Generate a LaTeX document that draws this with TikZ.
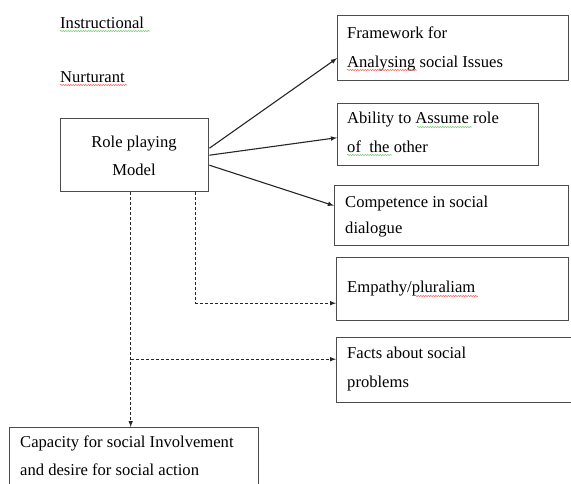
\documentclass[tikz,border=0pt]{standalone}
\usepackage{fontspec}
\setmainfont{Liberation Serif}
\usetikzlibrary{arrows, calc, decorations.pathmorphing}

\tikzset{
  box/.style={draw=black!70, line width=1.4pt, rectangle, anchor=north west, inner sep=0pt},
  txt/.style={anchor=base west, inner sep=0pt, font=\fontsize{16.6}{19}\selectfont, text=black},
  link/.style={-latex, line width=1.1pt, black!85},
  dlink/.style={-latex, line width=1pt, black!85, dash pattern=on 3pt off 2pt},
  squig/.style={decorate, decoration={snake, segment length=2.5pt, amplitude=0.6pt}, line width=0.5pt}
}

\begin{document}
\begin{tikzpicture}[x=1pt, y=-1pt]

\useasboundingbox (0,0) rectangle (571,483);

% boxes
\node[box, minimum width=148pt, minimum height=73pt] (role) at (60,118) {};
\node[box, minimum width=231pt, minimum height=65pt] (frame) at (337,15) {};
\node[box, minimum width=201pt, minimum height=62pt] (able) at (337,103) {};
\node[box, minimum width=234pt, minimum height=60pt] (comp) at (334,185) {};
\node[box, minimum width=232pt, minimum height=63pt] (emp) at (336,257) {};
\node[box, minimum width=240pt, minimum height=65pt] (facts) at (336,337) {};
\node[box, minimum width=249pt, minimum height=70pt] (cap) at (9,427) {};

% texts
\node[txt] (instr) at (60,28) {Instructional};
\node[txt] (nurt) at (60,82) {Nurturant};
\node[txt, anchor=base] (role1) at (134,147) {Role playing};
\node[txt, anchor=base] (role2) at (134,175) {Model};
\node[txt] (frame1) at (347,38) {Framework for};
\node[txt] (frame2) at (347,67) {Analysing social Issues};
\node[txt] (able1) at (347,123) {Ability to Assume role};
\node[txt] (able2) at (347,152) {of\ \ the other};
\node[txt] (comp1) at (345,207) {Competence in social};
\node[txt] (comp2) at (345,233) {dialogue};
\node[txt] (emp1) at (347,292) {Empathy/pluraliam};
\node[txt] (facts1) at (347,358) {Facts about social};
\node[txt] (facts2) at (347,387) {problems};
\node[txt] (cap1) at (20,447) {Capacity for social Involvement};
\node[txt] (cap2) at (20,475) {and desire for social action};

% spell-check marks
\draw[squig, green!60!black!60] (60,31) -- (150,31);
\draw[squig, red!70] (60,85) -- (127,85);
\draw[squig, red!70] (347,70) -- (417,70);
\draw[squig, green!60!black!60] (417,127) -- (472,127);
\draw[squig, green!60!black!60] (347,155) -- (392,155);
\draw[squig, red!70] (415,296) -- (478,296);

% solid arrows
\draw[link] ([yshift=7pt]role.east) -- ([yshift=-10pt]frame.west);
\draw[link] (role.east) -- ([yshift=-3pt]able.west);
\draw[link] ([yshift=-10pt]role.east) -- ([yshift=10pt]comp.west);

% dashed arrows
\coordinate (drop) at ([xshift=-4pt]role.south);
\coordinate (side) at ([xshift=61pt]role.south);
\draw[dlink] (side) |- ([yshift=-14pt]emp.west);
\draw[dlink] (drop) -- (drop |- cap.north);
\draw[dlink] ([yshift=11pt]drop |- facts.west) -- ([yshift=11pt]facts.west);

\end{tikzpicture}
\end{document}
